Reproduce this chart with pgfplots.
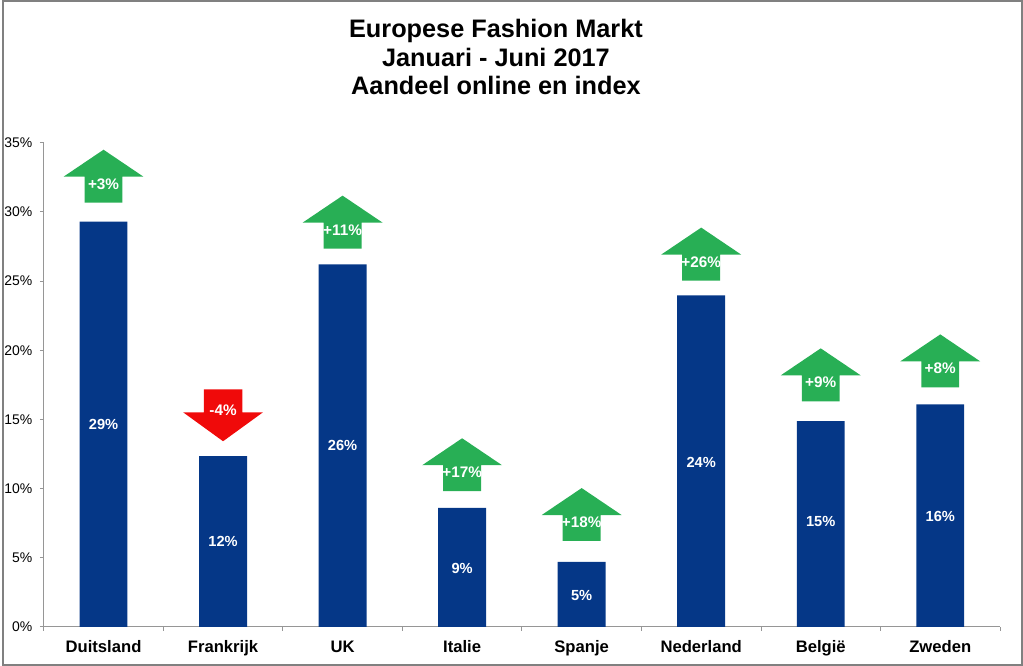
\documentclass[border=0pt]{standalone}
\usepackage{fontspec}
\setmainfont{Liberation Sans}
\usepackage{pgfplots}
\pgfplotsset{compat=1.18}
\definecolor{barblue}{RGB}{5,55,135}
\definecolor{arrowgreen}{RGB}{40,175,85}
\definecolor{arrowred}{RGB}{240,10,10}
\definecolor{axgray}{RGB}{150,150,150}
\pgfdeclareplotmark{uparrow}{%
  \pgfpathmoveto{\pgfqpoint{-14.25pt}{0pt}}%
  \pgfpathlineto{\pgfqpoint{14.25pt}{0pt}}%
  \pgfpathlineto{\pgfqpoint{14.25pt}{19.5pt}}%
  \pgfpathlineto{\pgfqpoint{30pt}{19.5pt}}%
  \pgfpathlineto{\pgfqpoint{0pt}{39.75pt}}%
  \pgfpathlineto{\pgfqpoint{-30pt}{19.5pt}}%
  \pgfpathlineto{\pgfqpoint{-14.25pt}{19.5pt}}%
  \pgfpathclose
  \pgfusepathqfill}
\pgfdeclareplotmark{downarrow}{%
  \pgfpathmoveto{\pgfqpoint{0pt}{0pt}}%
  \pgfpathlineto{\pgfqpoint{30pt}{21.75pt}}%
  \pgfpathlineto{\pgfqpoint{14.5pt}{21.75pt}}%
  \pgfpathlineto{\pgfqpoint{14.5pt}{39pt}}%
  \pgfpathlineto{\pgfqpoint{-14.5pt}{39pt}}%
  \pgfpathlineto{\pgfqpoint{-14.5pt}{21.75pt}}%
  \pgfpathlineto{\pgfqpoint{-30pt}{21.75pt}}%
  \pgfpathclose
  \pgfusepathqfill}
\begin{document}
\begin{tikzpicture}
\begin{axis}[
  at={(0pt,0pt)}, anchor=south west,
  width=718.5pt, height=363.75pt, scale only axis,
  xmin=-0.5, xmax=7.5, ymin=0, ymax=35,
  axis x line*=bottom, axis y line*=left,
  axis line style={draw=axgray, line width=0.7pt, -},
  xtick={0,...,7},
  xticklabels={Duitsland,Frankrijk,UK,Italie,Spanje,Nederland,België,Zweden},
  minor xtick={-0.5,0.5,...,7.5},
  ytick={0,5,...,35},
  yticklabel={\pgfmathprintnumber{\tick}\%},
  tick align=outside,
  major tick length=3pt, minor tick length=3pt,
  tick style={draw=axgray, line width=0.7pt},
  every major x tick/.append style={draw=none},
  xticklabel style={font=\bfseries\fontsize{12.5}{14}\selectfont, yshift=-4pt},
  yticklabel style={font=\fontsize{10.5}{12}\selectfont, xshift=-2pt},
  /pgf/number format/assume math mode=true,
  clip=false,
]
\addplot[ybar, bar width=36pt, fill=barblue, draw=none]
  coordinates {(0,29.3) (1,12.35) (2,26.2) (3,8.6) (4,4.7) (5,23.96) (6,14.87) (7,16.09)};
\addplot[draw=none, mark=none, nodes near coords, point meta=explicit symbolic,
  every node near coord/.append style={anchor=center, text=white, font=\bfseries\fontsize{11}{13}\selectfont}]
  coordinates {(0,14.65)[29\%] (1,6.21)[12\%] (2,13.13)[26\%] (3,4.19)[9\%] (4,2.24)[5\%] (5,11.91)[24\%] (6,7.65)[15\%] (7,8.01)[16\%]};
\addplot[only marks, mark=uparrow, mark options={fill=arrowgreen, draw=none},
  nodes near coords, point meta=explicit symbolic,
  every node near coord/.append style={anchor=center, yshift=14pt, text=white, font=\bfseries\fontsize{11.5}{13}\selectfont}]
  coordinates {(0,30.67)[+3\%] (2,27.35)[+11\%] (3,9.81)[+17\%] (4,6.21)[+18\%] (5,25.04)[+26\%] (6,16.31)[+9\%] (7,17.32)[+8\%]};
\addplot[only marks, mark=downarrow, mark options={fill=arrowred, draw=none},
  nodes near coords, point meta=explicit symbolic,
  every node near coord/.append style={anchor=center, yshift=23pt, text=white, font=\bfseries\fontsize{11.5}{13}\selectfont}]
  coordinates {(1,13.42)[-4\%]};
\end{axis}
\node[anchor=north, align=center, font=\bfseries\fontsize{19}{21.4}\selectfont] at (339.75pt,460pt)
  {Europese Fashion Markt\\Januari - Juni 2017\\Aandeel online en index};
\draw[draw=gray, line width=1.5pt] (-30.75pt,-28.5pt) rectangle (735pt,470.25pt);
\useasboundingbox (-31.5pt,-29.25pt) rectangle (735.75pt,471pt);
\end{tikzpicture}
\end{document}
